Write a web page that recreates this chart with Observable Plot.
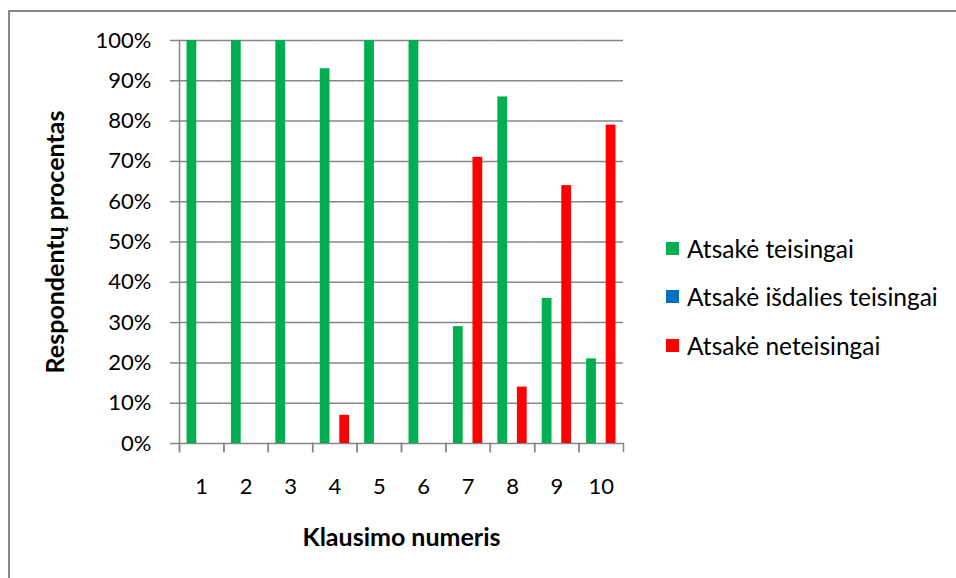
<!DOCTYPE html>
<html>
<head>
<meta charset="utf-8">
<script src="https://cdn.jsdelivr.net/npm/d3@7"></script>
<script src="https://cdn.jsdelivr.net/npm/@observablehq/plot@0.6"></script>
<style>
  html, body { margin: 0; padding: 0; background: #fff; }
  #chart { position: relative; width: 956px; height: 578px; overflow: hidden; font-family: Lato, "Open Sans", sans-serif; }
  #chart .box { position: absolute; left: 8px; top: 10px; right: -4px; bottom: -4px; border-left: 2px solid #878787; border-top: 2px solid #878787; }
  #chart svg { position: absolute; left: 0; top: 0; }
  #chart svg [aria-label$="axis label"] { font-weight: bold; font-size: 25px; }
  .legend { position: absolute; left: 666px; top: 224px; }
  .legend .row { display: flex; align-items: center; height: 48.5px; font-size: 24.5px; color: #000; }
  .legend .sw { width: 13px; height: 13px; margin-right: 8px; }
</style>
</head>
<body>
<div id="chart"><div class="box"></div></div>
<script>
// Question numbers on the horizontal axis
const questions = [1, 2, 3, 4, 5, 6, 7, 8, 9, 10];

// Answer categories and their colours
const seriesNames = ["Atsakė teisingai", "Atsakė išdalies teisingai", "Atsakė neteisingai"];
const seriesColors = ["#00B050", "#0070C0", "#FF0000"];

// Share of respondents (%) per question
const correct   = [100, 100, 100, 93, 100, 100, 29, 86, 36, 21];
const partial   = [0, 0, 0, 0, 0, 0, 0, 0, 0, 0];
const incorrect = [0, 0, 0, 7, 0, 0, 71, 14, 64, 79];

// Vertical axis ticks
const yTicks = [0, 10, 20, 30, 40, 50, 60, 70, 80, 90, 100];

const seriesValues = [correct, partial, incorrect];
const rows = questions.flatMap((q, i) =>
  seriesNames.map((s, j) => ({question: q, series: s, value: seriesValues[j][i]}))
);

const axisGray = "#878787";

const chart = Plot.plot({
  width: 956,
  height: 578,
  marginLeft: 179,
  marginRight: 333,
  marginTop: 40,
  marginBottom: 135,
  style: {fontFamily: "Lato, 'Open Sans', sans-serif", fontSize: "22px", color: "#000", background: "transparent"},
  fx: {domain: questions, padding: 0, round: false, label: "Klausimo numeris"},
  x: {domain: seriesNames, paddingInner: 0, paddingOuter: 0.77, round: false, axis: null},
  y: {domain: [0, 100], label: "Respondentų procentas"},
  color: {domain: seriesNames, range: seriesColors},
  marks: [
    Plot.ruleY(yTicks, {stroke: axisGray, strokeWidth: 1.5}),
    // value axis line
    Plot.frame({anchor: "left", facetAnchor: "left", stroke: axisGray, strokeWidth: 1.5, insetBottom: -8}),
    // tick marks between question groups
    Plot.frame({anchor: "left", stroke: axisGray, strokeWidth: 1.5, insetTop: 403, insetBottom: -8}),
    Plot.frame({anchor: "right", stroke: axisGray, strokeWidth: 1.5, insetTop: 403, insetBottom: -8}),
    Plot.barY(rows, {fx: "question", x: "series", y: "value", fill: "series"}),
    Plot.axisY(yTicks, {
      tickFormat: d => d + "%",
      tickSize: 9,
      tickPadding: 19,
      stroke: axisGray,
      strokeWidth: 1.5,
      fontSize: 22,
      label: "Respondentų procentas",
      labelArrow: false,
      labelAnchor: "center",
      labelOffset: 133
    }),
    Plot.axisFx({
      anchor: "bottom",
      tickSize: 0,
      tickPadding: 35,
      fontSize: 22,
      label: "Klausimo numeris",
      labelArrow: false,
      labelAnchor: "center",
      labelOffset: 102
    })
  ]
});

document.getElementById("chart").appendChild(chart);

// Legend to the right of the plot area
const legend = d3.select("#chart").append("div").attr("class", "legend");
seriesNames.forEach((name, i) => {
  const row = legend.append("div").attr("class", "row");
  row.append("div").attr("class", "sw").style("background", seriesColors[i]);
  row.append("span").text(name);
});
</script>
</body>
</html>
